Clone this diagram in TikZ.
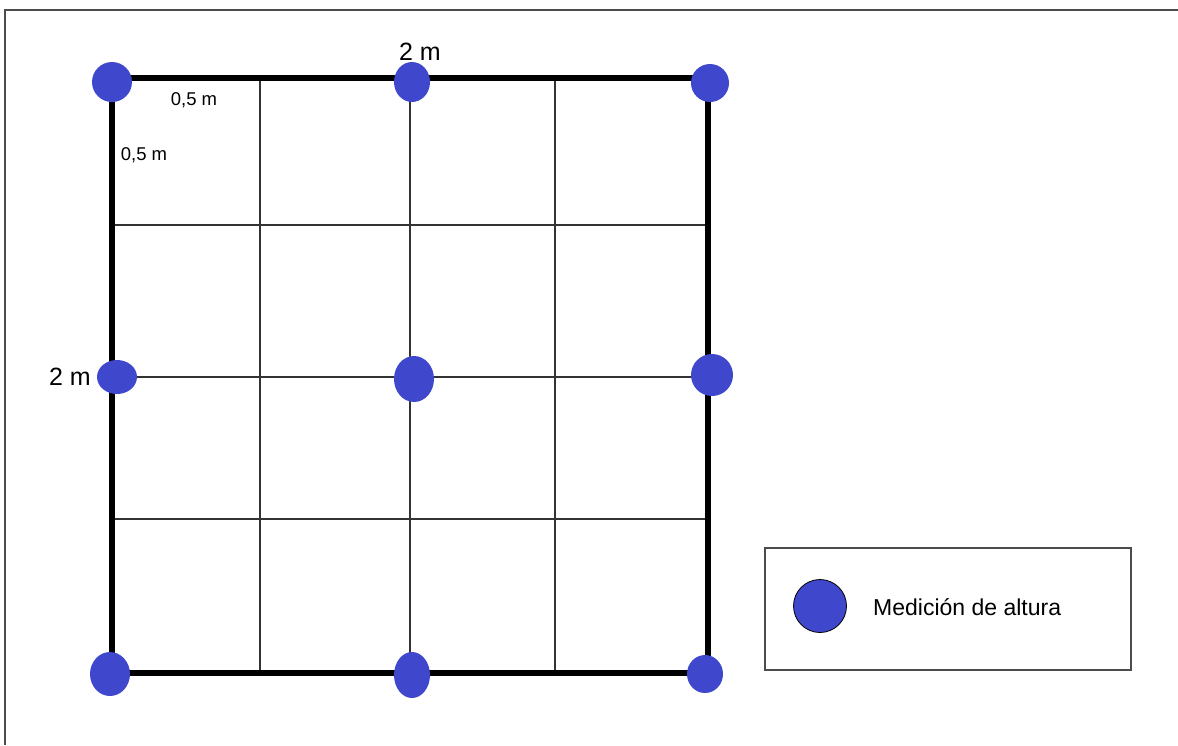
\documentclass[tikz,border=0pt]{standalone}
\usepackage{fontspec}
\setmainfont{Liberation Sans}
\usetikzlibrary{positioning}
\definecolor{dotblue}{RGB}{63,72,204}

\begin{document}
\begin{tikzpicture}[x=1pt, y=-1pt,
    thinline/.style={black!80, line width=1.2pt},
    thickline/.style={black, line width=5.5pt, line cap=rect},
    dimlabel/.style={inner sep=0pt, font=\fontsize{25}{30}\selectfont},
    smalllabel/.style={inner sep=0pt, font=\fontsize{18.5}{22}\selectfont}]
    \useasboundingbox (0,0) rectangle (1178,745);

    % Frame (left and top edges only)
    \draw[black!70, line width=1.8pt] (5,745) -- (5,10) -- (1178,10);

    % Inner grid, 0.5 m cells
    \foreach \gx in {260,410,555} {
        \draw[thinline] (\gx,78) -- (\gx,673);
    }
    \foreach \gy in {225,377,519} {
        \draw[thinline] (112,\gy) -- (708,\gy);
    }

    % Outer square, 2 m side
    \draw[thickline] (112,78) rectangle (708,673);

    % Height measuring points
    \fill[dotblue] (112,82) ellipse (20pt and 20pt);
    \fill[dotblue] (412,82) ellipse (18pt and 20pt);
    \fill[dotblue] (710,83) ellipse (19pt and 19pt);
    \fill[dotblue] (117,377) ellipse (20pt and 17pt);
    \fill[dotblue] (414,379) ellipse (20pt and 23pt);
    \fill[dotblue] (712,375) ellipse (21pt and 21pt);
    \fill[dotblue] (110,674) ellipse (20pt and 22pt);
    \fill[dotblue] (412,675) ellipse (18pt and 23pt);
    \fill[dotblue] (705,674) ellipse (18pt and 19pt);

    % Dimension labels
    \node[dimlabel] (topdim) at (420,52) {2 m};
    \node[dimlabel] (leftdim) at (70,377) {2 m};
    \node[smalllabel] (cellw) at (194,100) {0,5 m};
    \node[smalllabel] (cellh) at (144,155) {0,5 m};

    % Legend
    \draw[black!70, line width=1.2pt] (765,548) rectangle (1131,670);
    \filldraw[fill=dotblue, draw=black, line width=0.8pt] (820,606) circle (26.5pt);
    \node[inner sep=0pt, anchor=west, font=\fontsize{23}{28}\selectfont] (legtext) at (873,607) {Medición de altura};
\end{tikzpicture}
\end{document}
